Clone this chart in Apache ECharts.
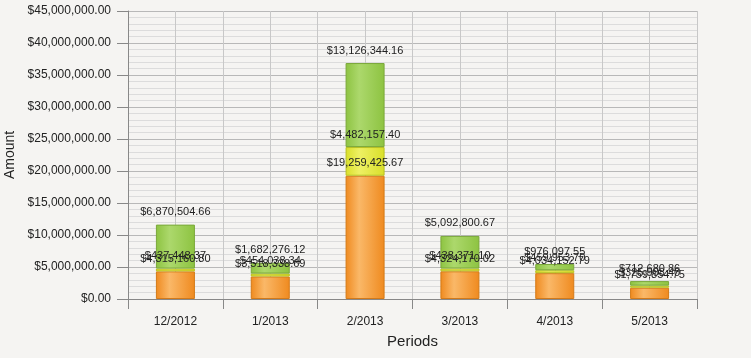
<!DOCTYPE html>
<html>
<head>
<meta charset="utf-8">
<script src="https://cdn.jsdelivr.net/npm/echarts@6/dist/echarts.min.js"></script>
<style>
html,body{margin:0;padding:0;background:#f5f4f2;}
#c{width:751px;height:358px;}
</style>
</head>
<body>
<div id="c"></div>
<script>
var categories = ['12/2012', '1/2013', '2/2013', '3/2013', '4/2013', '5/2013'];
var orangeValues = [4315160.80, 3518338.69, 19259425.67, 4324170.02, 4034152.79, 1759854.75];
var yellowValues = [437448.37, 454038.34, 4482157.40, 438371.10, 459953.70, 325908.40];
var greenValues = [6870504.66, 1682276.12, 13126344.16, 5092800.67, 976097.55, 712680.86];
var yTicks = { min: 0, max: 45000000, interval: 5000000 };

function money(v) {
  return '$' + Number(v).toLocaleString('en-US', { minimumFractionDigits: 2, maximumFractionDigits: 2 });
}
function grad(edge, mid) {
  return new echarts.graphic.LinearGradient(0, 0, 1, 0, [
    { offset: 0, color: edge }, { offset: 0.35, color: mid }, { offset: 1, color: edge }
  ]);
}
var font = 'Liberation Sans, Arial, sans-serif';
var labelCfg = {
  show: true, position: 'top', distance: 7, color: '#222', fontSize: 11, fontFamily: font,
  formatter: function (p) { return money(p.value); }
};
function series(name, data, edge, mid, border) {
  return {
    name: name, type: 'bar', stack: 'total', data: data, barWidth: 39,
    xAxisIndex: 0, yAxisIndex: 0,
    itemStyle: { color: grad(edge, mid), borderColor: border, borderWidth: 1 },
    label: labelCfg
  };
}
var chart = echarts.init(document.getElementById('c'), null, { renderer: 'canvas' });
chart.setOption({
  backgroundColor: '#f5f4f2',
  animation: false,
  grid: { left: 128, right: 54, top: 11, bottom: 59, containLabel: false, outerBoundsMode: 'none' },
  xAxis: [{
    type: 'category', data: categories, boundaryGap: true,
    name: 'Periods', nameLocation: 'middle', nameGap: 35,
    nameTextStyle: { fontSize: 15, color: '#222', fontFamily: font },
    axisLine: { lineStyle: { color: '#888', width: 1 } },
    axisTick: { show: true, length: 10, lineStyle: { color: '#888' } },
    axisLabel: { margin: 17, fontSize: 12, color: '#222', fontFamily: font },
    splitLine: { show: false }
  }, {
    type: 'value', min: 0, max: 6, interval: 0.5, position: 'bottom',
    axisLine: { show: false }, axisTick: { show: false }, axisLabel: { show: false },
    splitLine: { show: true, lineStyle: { color: '#c8c8c8', width: 1 } }
  }],
  yAxis: {
    type: 'value', min: yTicks.min, max: yTicks.max, interval: yTicks.interval,
    name: 'Amount', nameLocation: 'middle', nameGap: 105, nameRotate: 90,
    nameTextStyle: { fontSize: 14, color: '#222', fontFamily: font },
    axisLine: { show: true, lineStyle: { color: '#888', width: 1 } },
    axisTick: { show: true, length: 11, lineStyle: { color: '#888' } },
    axisLabel: { margin: 17, fontSize: 12, color: '#222', fontFamily: font, formatter: money },
    splitLine: { show: true, lineStyle: { color: '#b8b8b8', width: 1 } },
    minorTick: { show: false, splitNumber: 5 },
    minorSplitLine: { show: true, lineStyle: { color: '#dcdcdc', width: 1 } }
  },
  series: [
    series('Orange', orangeValues, '#ef8a1f', '#fab868', '#d47a18'),
    series('Yellow', yellowValues, '#d9df2a', '#eef064', '#b8c020'),
    series('Green', greenValues, '#8dc341', '#acd86c', '#7aa83a')
  ]
});
</script>
</body>
</html>
